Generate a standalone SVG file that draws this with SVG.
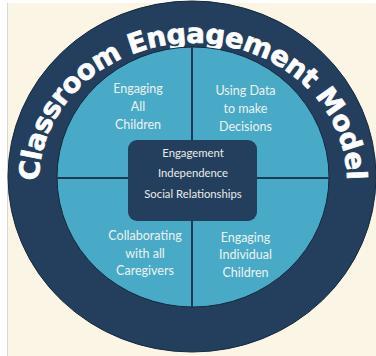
<svg xmlns="http://www.w3.org/2000/svg" width="376" height="356" viewBox="0 0 376 356">
<style>
.q{font-family:Lato,"Open Sans",sans-serif;font-size:12.5px;fill:#eef2ee;text-anchor:middle}
.c{font-family:Lato,"Open Sans",sans-serif;font-size:11.3px;fill:#e8ece8;text-anchor:middle}
.t{font-family:"DejaVu Sans","Liberation Sans",sans-serif;font-weight:bold;font-size:27.5px;fill:#ffffff;stroke:#ffffff;stroke-width:0.7}
</style>
<defs>
<path id="arc" d="M 39 181 A 154 138 0 0 1 347 181"/>
</defs>
<rect x="0" y="0" width="376" height="356" fill="#ffffff"/>
<rect x="8" y="3" width="368" height="353" fill="#fbf5e5"/>
<rect x="7" y="3" width="1" height="353" fill="#d8d8d8"/>
<g id="ring">
<ellipse cx="192" cy="176.5" rx="184" ry="175.5" fill="#243f5e" stroke="#16283a" stroke-width="1"/>
<text class="t"><textPath href="#arc" textLength="458" lengthAdjust="spacing">Classroom Engagement Model</textPath></text>
</g>
<g id="inner">
<ellipse cx="193" cy="177" rx="136" ry="130" fill="#48aac7" stroke="#16283a" stroke-width="1"/>
</g>
<g id="connectors">
<line x1="192" y1="47" x2="192" y2="307" stroke="#1f3a57" stroke-width="2"/>
<line x1="57" y1="178" x2="329" y2="178" stroke="#1f3a57" stroke-width="2"/>
</g>
<g id="q1"><text class="q" x="138" y="93">Engaging</text><text class="q" x="138" y="111">All</text><text class="q" x="138" y="129">Children</text></g>
<g id="q2"><text class="q" x="245.5" y="95">Using Data</text><text class="q" x="245.5" y="113">to make</text><text class="q" x="245.5" y="131">Decisions</text></g>
<g id="q3"><text class="q" x="145" y="240">Collaborating</text><text class="q" x="145" y="258">with all</text><text class="q" x="145" y="275">Caregivers</text></g>
<g id="q4"><text class="q" x="245.5" y="242">Engaging</text><text class="q" x="245.5" y="259">Individual</text><text class="q" x="245.5" y="277">Children</text></g>
<g id="center">
<rect x="128" y="140" width="129" height="81" rx="9" fill="#243f5e"/>
<text class="c" x="193" y="157">Engagement</text>
<text class="c" x="193" y="177">Independence</text>
<text class="c" x="193" y="198">Social Relationships</text>
</g>
</svg>
